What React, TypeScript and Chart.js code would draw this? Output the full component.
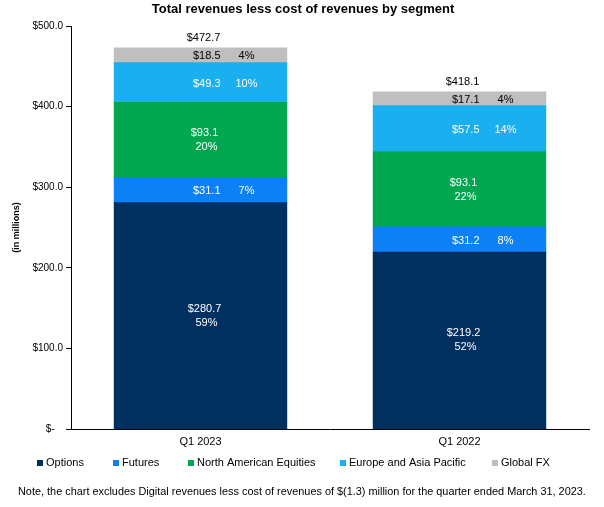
import React, { useEffect, useRef } from "react";
import { Chart, registerables } from "chart.js";
Chart.register(...registerables);

const categories = ["Q1 2023", "Q1 2022"];
const seriesNames = ["Options", "Futures", "North American Equities", "Europe and Asia Pacific", "Global FX"];
const optionsVals = [280.7, 219.2];
const futuresVals = [31.1, 31.2];
const naEquitiesVals = [93.1, 93.1];
const eapVals = [49.3, 57.5];
const globalFxVals = [18.5, 17.1];
const optionsPct = [59, 52];
const futuresPct = [7, 8];
const naEquitiesPct = [20, 22];
const eapPct = [10, 14];
const globalFxPct = [4, 4];
const totals = [472.7, 418.1];
const yMin = 0;
const yMax = 500;
const yStep = 100;

const title = "Total revenues less cost of revenues by segment";
const yTitle = "(in millions)";
const note = "Note, the chart excludes Digital revenues less cost of revenues of $(1.3) million for the quarter ended March 31, 2023.";

const colors = ["#003060", "#0C80F5", "#00A650", "#1AAFEE", "#BFBFBF"];
const labelColors = ["#FFFFFF", "#FFFFFF", "#FFFFFF", "#FFFFFF", "#000000"];
const twoLine = [true, false, true, false, false];
const FONT = "'Liberation Sans', Arial, sans-serif";

export default function App() {
  const ref = useRef<HTMLCanvasElement>(null);
  useEffect(() => {
    if (!ref.current) return;
    const values = [optionsVals, futuresVals, naEquitiesVals, eapVals, globalFxVals];
    const pcts = [optionsPct, futuresPct, naEquitiesPct, eapPct, globalFxPct];
    const legendX = [37, 113, 188, 340, 492];

    const plugin = {
      id: "custom",
      afterDatasetsDraw(chart: any) {
        const ctx = chart.ctx as CanvasRenderingContext2D;
        ctx.save();
        ctx.textBaseline = "middle";
        chart.data.datasets.forEach((ds: any, di: number) => {
          const meta = chart.getDatasetMeta(di);
          meta.data.forEach((bar: any, i: number) => {
            const { x, y, base } = bar.getProps(["x", "y", "base"], true);
            const cy = (y + base) / 2;
            const val = "$" + Number(ds.data[i]).toFixed(1);
            const pct = pcts[di][i] + "%";
            ctx.fillStyle = labelColors[di];
            ctx.font = `11px ${FONT}`;
            if (twoLine[di]) {
              ctx.textAlign = "center";
              ctx.fillText(val, x + 4, cy - 7);
              ctx.fillText(pct, x + 6, cy + 7);
            } else {
              ctx.textAlign = "right";
              ctx.fillText(val, x + 20, cy + 1);
              ctx.textAlign = "center";
              ctx.fillText(pct, x + 46, cy + 1);
            }
          });
        });
        const lastMeta = chart.getDatasetMeta(chart.data.datasets.length - 1);
        lastMeta.data.forEach((bar: any, i: number) => {
          const { x, y } = bar.getProps(["x", "y"], true);
          ctx.fillStyle = "#000";
          ctx.textAlign = "center";
          ctx.font = `11px ${FONT}`;
          ctx.fillText("$" + totals[i].toFixed(1), x + 3, y - 10);
        });
        ctx.restore();
      },
      afterDraw(chart: any) {
        const ctx = chart.ctx as CanvasRenderingContext2D;
        ctx.save();
        ctx.textBaseline = "middle";
        ctx.fillStyle = "#000";
        ctx.font = `bold 13px ${FONT}`;
        ctx.textAlign = "center";
        ctx.fillText(title, 303, 9);
        ctx.save();
        ctx.translate(17, (chart.chartArea.top + chart.chartArea.bottom) / 2);
        ctx.rotate(-Math.PI / 2);
        ctx.font = `bold 9px ${FONT}`;
        ctx.fillText(yTitle, 0, 0);
        ctx.restore();
        ctx.font = `11px ${FONT}`;
        ctx.textAlign = "left";
        seriesNames.forEach((n, i) => {
          ctx.fillStyle = colors[i];
          ctx.fillRect(legendX[i], 460, 6, 6);
          ctx.fillStyle = "#000";
          ctx.fillText(n, legendX[i] + 9, 463);
        });
        ctx.font = `10.9px ${FONT}`;
        ctx.fillText(note, 18, 492);
        ctx.restore();
      },
    };

    const chart = new Chart(ref.current, {
      type: "bar",
      data: {
        labels: categories,
        datasets: seriesNames.map((n, i) => ({
          label: n,
          data: values[i],
          backgroundColor: colors[i],
          borderWidth: 0,
          inflateAmount: 0.6,
          categoryPercentage: 0.665,
          barPercentage: 1,
        })),
      },
      options: {
        animation: false,
        responsive: false,
        layout: { padding: { top: 26, bottom: 53, left: 0, right: 15 } },
        plugins: { legend: { display: false }, title: { display: false }, tooltip: { enabled: false } },
        scales: {
          x: {
            stacked: true,
            grid: { display: true, drawOnChartArea: false, drawTicks: false },
            border: { display: true, color: "#000", width: 1 },
            ticks: { color: "#000", font: { family: FONT, size: 11 }, padding: 6 },
            afterFit: (s: any) => { s.height = 25; },
          },
          y: {
            stacked: true,
            min: yMin,
            max: yMax,
            grid: { display: true, drawOnChartArea: false, drawTicks: true, tickLength: 5, color: "#000" },
            border: { display: true, color: "#000", width: 1 },
            ticks: {
              stepSize: yStep,
              color: "#000",
              padding: 3,
              font: { family: FONT, size: 10 },
              callback: (v: any) => (Number(v) === 0 ? "$-   " : "$" + Number(v).toFixed(1)),
            },
            afterFit: (s: any) => { s.width = 71; },
          },
        },
      },
      plugins: [plugin],
    });
    return () => chart.destroy();
  }, []);
  return (
    <div style={{ position: "absolute", left: 0, top: 0, width: 604, height: 507, background: "#fff" }}>
      <canvas ref={ref} width={604} height={507} style={{ width: 604, height: 507 }} />
    </div>
  );
}
